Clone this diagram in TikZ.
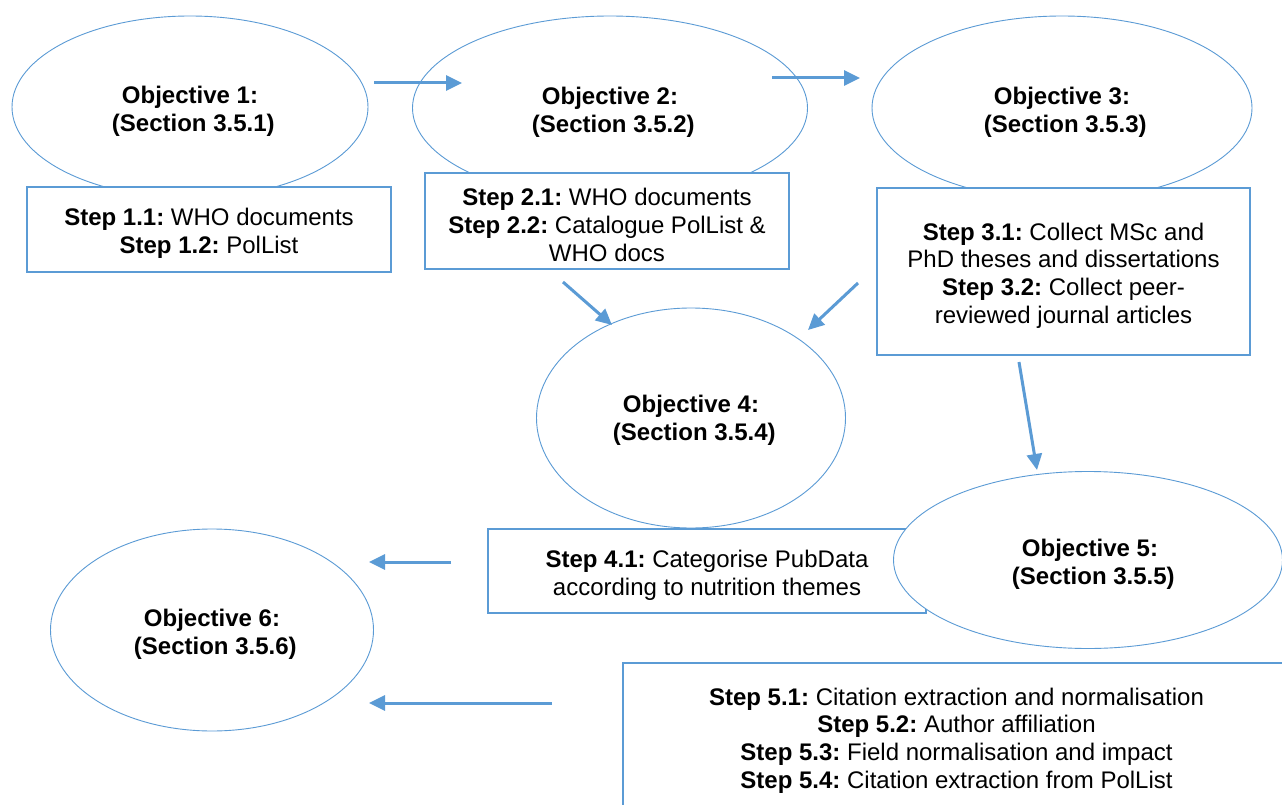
\documentclass[tikz,border=0pt]{standalone}
\usepackage{fontspec}
\setmainfont{Liberation Sans}
\usetikzlibrary{shapes.geometric,arrows.meta}
\definecolor{ob}{HTML}{5B9BD5}
\frenchspacing
\begin{document}
\begin{tikzpicture}[x=1pt,y=-1pt,
  every node/.style={font=\fontsize{24}{27.6}\selectfont, align=center, inner sep=0pt},
  obj/.style={ellipse, draw=ob, line width=0.9pt, fill=white},
  stepbox/.style={rectangle, draw=ob, line width=1.3pt, fill=white},
  lbl/.style={yshift=-4pt},
  flow/.style={draw=ob, line width=3pt, -{Triangle[length=16pt,width=15pt]}}]
\clip (0,0) rectangle (1282,805);
\fill[white] (0,0) rectangle (1282,805);
% objectives 1-4
\node[obj, minimum width=356pt, minimum height=182pt] (o1) at (190,107) {};
\node[lbl] (o1t) at (o1.center) {\textbf{Objective 1:}\\\textbf{ (Section 3.5.1)}};
\node[obj, minimum width=395pt, minimum height=184pt] (o2) at (610,108) {};
\node[lbl] (o2t) at (o2.center) {\textbf{Objective 2:}\\\textbf{ (Section 3.5.2)}};
\node[obj, minimum width=380pt, minimum height=184pt] (o3) at (1062,108) {};
\node[lbl] (o3t) at (o3.center) {\textbf{Objective 3:}\\\textbf{ (Section 3.5.3)}};
\node[obj, minimum width=309pt, minimum height=220pt] (o4) at (691,418) {};
\node[lbl] (o4t) at (691,416) {\textbf{Objective 4:}\\\textbf{ (Section 3.5.4)}};
% step boxes
\node[stepbox, minimum width=364pt, minimum height=85pt] (s1) at (209,229.5) {};
\node[lbl] (s1t) at (s1.center) {\textbf{Step 1.1:} WHO documents\\\textbf{Step 1.2:} PolList};
\node[stepbox, minimum width=364pt, minimum height=96pt] (s2) at (607,221) {};
\node[lbl] (s2t) at (s2.center) {\textbf{Step 2.1:} WHO documents\\\textbf{Step 2.2:} Catalogue PolList \&\\WHO docs};
\node[stepbox, minimum width=373pt, minimum height=167pt] (s3) at (1063.5,271.5) {};
\node[lbl] (s3t) at (s3.center) {\textbf{Step 3.1:} Collect MSc and\\PhD theses and dissertations\\\textbf{Step 3.2:} Collect peer-\\reviewed journal articles};
\node[stepbox, minimum width=438pt, minimum height=84pt] (s4) at (707,571) {};
\node[lbl] (s4t) at (s4.center) {\textbf{Step 4.1:} Categorise PubData\\according to nutrition themes};
\node[obj, minimum width=389pt, minimum height=177pt] (o5) at (1088,560) {};
\node[lbl] (o5t) at (1090,560) {\textbf{Objective 5:}\\\textbf{ (Section 3.5.5)}};
\node[stepbox, minimum width=667pt, minimum height=147pt] (s5) at (956.5,736.5) {};
\node[lbl] (s5t) at (s5.center) {\textbf{Step 5.1:} Citation extraction and normalisation\\\textbf{Step 5.2:} Author affiliation\\\textbf{Step 5.3:} Field normalisation and impact\\\textbf{Step 5.4:} Citation extraction from PolList};
\node[obj, minimum width=323pt, minimum height=202pt] (o6) at (212,630) {};
\node[lbl] (o6t) at (o6.center) {\textbf{Objective 6:}\\\textbf{ (Section 3.5.6)}};
% arrow ends
\coordinate (a1s) at (374,83);   \coordinate (a1e) at (462,83);
\coordinate (a2s) at (772,78);   \coordinate (a2e) at (860,78);
\coordinate (a3s) at (563,282);  \coordinate (a3e) at (612,325);
\coordinate (a4s) at (858,283);  \coordinate (a4e) at (808,330);
\coordinate (a5s) at (1019,362); \coordinate (a5e) at (1037,470);
\coordinate (a6s) at (451,562);  \coordinate (a6e) at (369,562);
\coordinate (a7s) at (552,703);  \coordinate (a7e) at (369,703);
\draw[flow] (a1s) -- (a1e);
\draw[flow] (a2s) -- (a2e);
\draw[flow] (a3s) -- (a3e);
\draw[flow] (a4s) -- (a4e);
\draw[flow] (a5s) -- (a5e);
\draw[flow] (a6s) -- (a6e);
\draw[flow] (a7s) -- (a7e);
\end{tikzpicture}
\end{document}
